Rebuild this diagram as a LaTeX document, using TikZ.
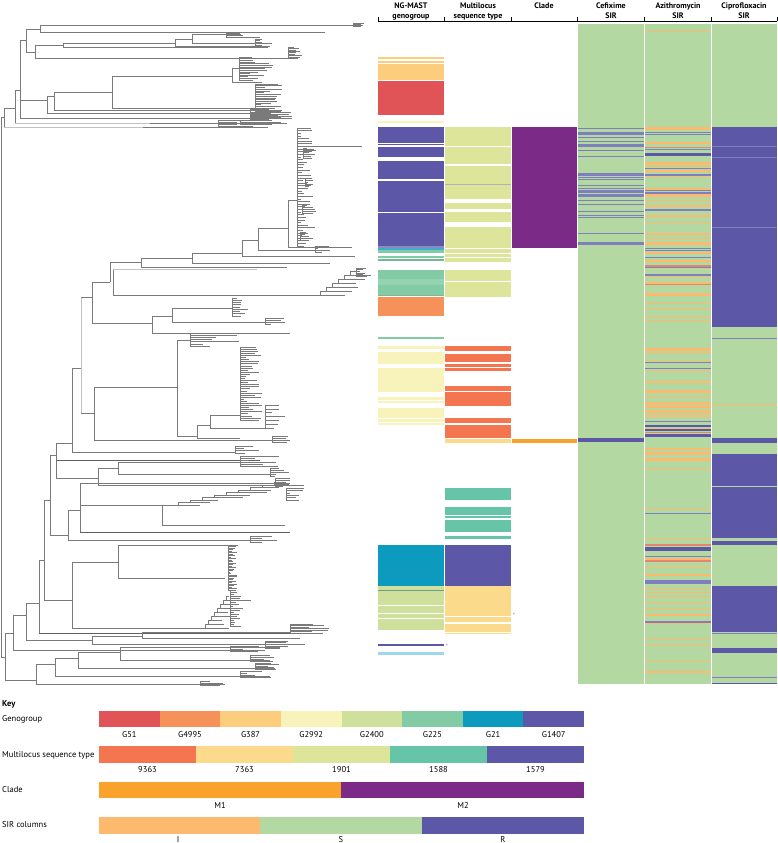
\documentclass[tikz,border=0pt]{standalone}
\usepackage{fontspec}
\setmainfont{PT Sans}
\definecolor{cGa}{HTML}{E05458}
\definecolor{cGb}{HTML}{F69259}
\definecolor{cGc}{HTML}{FDCD7E}
\definecolor{cGd}{HTML}{F7F3BB}
\definecolor{cGe}{HTML}{CFE09D}
\definecolor{cGf}{HTML}{82CBA4}
\definecolor{cGg}{HTML}{0C9ABE}
\definecolor{cGh}{HTML}{5C57A6}
\definecolor{cMa}{HTML}{F37651}
\definecolor{cMb}{HTML}{FBDA8C}
\definecolor{cMc}{HTML}{DDE59A}
\definecolor{cMd}{HTML}{66C5A7}
\definecolor{cMe}{HTML}{5C57A6}
\definecolor{cCa}{HTML}{F9A22C}
\definecolor{cCb}{HTML}{7B2A87}
\definecolor{cI}{HTML}{FDB96E}
\definecolor{cS}{HTML}{B3D8A1}
\definecolor{cR}{HTML}{5C57A6}
\definecolor{cRl}{HTML}{7E7FBC}
\definecolor{cX}{HTML}{E5866A}
\definecolor{treeg}{HTML}{7A7A7A}
\definecolor{treel}{HTML}{C2C2C2}
\definecolor{treed}{HTML}{606060}
\tikzset{
  br/.style={draw=treeg, line width=0.55pt},
  brl/.style={draw=treel, line width=0.55pt},
  brd/.style={draw=treed, line width=0.55pt},
  hdr/.style={font=\bfseries\fontsize{8}{9}\selectfont, anchor=base, inner sep=0pt},
  keyt/.style={font=\fontsize{8.5}{10}\selectfont, anchor=base, inner sep=0pt},
}
\newcommand\trH[4][br]{\draw[#1] (#3,#2) -- (#4,#2);}
\newcommand\trV[4][br]{\draw[#1] (#2,#3) -- (#2,#4);}
\newcommand\trC[5]{%
  \draw[br] (#1,#2) -- (#1,#3);
  \foreach \k in {0,...,#5}{%
    \pgfmathsetmacro\yy{#2+(#3-#2)*\k/#5}%
    \pgfmathsetmacro\ll{#4*(0.2+0.8*rnd)}%
    \draw[br] (#1,\yy) -- ++(\ll,0);
  }}
\newcommand\trS[6]{%
  \foreach \i in {1,...,#5}{%
    \pgfmathsetmacro\xa{#1+(\i-1)*(#3)}%
    \pgfmathsetmacro\ya{#2-(\i-1)*(#4)}%
    \pgfmathsetmacro\yb{\ya-(#4)}%
    \pgfmathsetmacro\xb{\xa+(#3)}%
    \pgfmathsetmacro\ll{#6*(0.4+0.6*rnd)}%
    \draw[br] (\xa,\ya) -- (\xa,\yb) -- (\xb,\yb);
    \draw[br] (\xa,\ya) -- ++(\ll,0);
  }}
\newcommand\gbx[3]{\fill[#1] (378,#2) rectangle (444,#3);}
\newcommand\mbx[3]{\fill[#1] (445,#2) rectangle (511,#3);}
\newcommand\cbx[3]{\fill[#1] (512,#2) rectangle (577,#3);}
\newcommand\cfx[3]{\fill[#1] (578,#2) rectangle (643.5,#3);}
\newcommand\azx[3]{\fill[#1] (645,#2) rectangle (710.5,#3);}
\newcommand\cix[3]{\fill[#1] (712,#2) rectangle (777,#3);}
\begin{document}
\begin{tikzpicture}[x=1pt,y=-1pt]
\useasboundingbox (0,0) rectangle (778,843);
\pgfmathsetseed{7}
% ---------------- tree ----------------
\trV{1}{117}{657}
\trH{117}{1}{4}
\trV{4}{108}{127}
\trH[brl]{127}{4}{143}
\trH{127}{143}{268}
\trC{218}{120}{126}{60}{3}
\trH{108}{4}{15}
\trV{15}{90}{123}
\trH[brl]{123}{15}{150}
\trH{123}{150}{287}
\trC{240}{120}{124}{45}{2}
\trH{90}{15}{20}
\trV{20}{40}{118}
\trH{118}{20}{292}
\trC{250}{114}{119}{40}{3}
\trH{40}{20}{26}
\trV{26}{29}{52}
\trH{29}{26}{40}
\trV{40}{25}{32}
\trH{25}{40}{353}
\trC{353}{23.5}{26.5}{16}{3}
\trH{32}{40}{325}
\trH{52}{26}{35}
\trV{35}{45}{58}
\trH{45}{35}{63}
\trV{63}{43}{47}
\trH{43}{63}{175}
\trV{175}{39}{46}
\trH{39}{175}{192}
\trV{192}{34}{43}
\trH{34}{192}{226}
\trC{226}{33}{37}{50}{3}
\trH{43}{192}{255}
\trC{255}{39}{45}{20}{4}
\trH{46}{175}{270}
\trH{47}{63}{268}
\trH{58}{35}{298}
\trC{288}{47}{57}{14}{7}
\trH{100}{20}{47}
\trV{47}{96}{113}
\trH{113}{47}{265}
\trC{250}{109}{116}{45}{4}
\trH{96}{47}{54}
\trV{54}{92}{110}
\trH{110}{54}{278}
\trH{92}{54}{112}
\trV{112}{76}{108}
\trH{76}{112}{232}
\trV{232}{68}{82}
\trH{68}{232}{239}
\trC{239}{57}{80}{35}{14}
\trH{82}{232}{262}
\trH{108}{112}{255}
\trC{255}{84}{115}{28}{18}
% middle
\trV[brl]{81}{297}{413}
\trH{297}{81}{92}
\trV{92}{282}{323}
\trH{282}{92}{110}
\trV{110}{262}{282}
\trH{262}{110}{141}
\trV{141}{258}{267}
\trH{267}{141}{287}
\trH{258}{141}{192}
\trV{192}{253}{263}
\trH{263}{192}{330}
\trH{253}{192}{242}
\trV{242}{240}{256}
\trH{256}{242}{355}
\trH{240}{242}{258}
\trV{258}{228}{250}
\trH{250}{258}{330}
\trC{315}{246}{252}{15}{3}
\trH{228}{258}{288}
\trV{288}{200}{247}
\trH{247}{288}{352}
\trH{200}{288}{297}
\trC{297}{128}{246}{18}{45}
\trH{146}{297}{362}
\trC{303}{148}{158}{14}{5}
\trC{305}{178}{186}{12}{4}
\trC{302}{205}{213}{15}{4}
\trC{300}{232}{240}{20}{4}
\trV{113}{269}{295}
\trH[brl]{269}{113}{257}
\trH{295}{113}{320}
\trS{320}{295}{6}{4}{6}{28}
\trC{356}{268}{276}{14}{5}
\trH{323}{92}{152}
\trV{152}{316}{333}
\trH{333}{152}{290}
\trH{316}{152}{172}
\trV{172}{308}{322}
\trH{322}{172}{285}
\trC{265}{318}{324}{25}{3}
\trH{308}{172}{232}
\trC{232}{298}{316}{18}{8}
\trH{413}{81}{94}
\trV{94}{387}{440}
\trH{440}{94}{290}
\trC{272}{436}{442}{20}{3}
\trH{387}{94}{177}
\trV{177}{340}{436}
\trH{340}{177}{190}
\trC{190}{333}{346}{50}{6}
\trH{436}{177}{197}
\trV{197}{425}{438}
\trH{438}{197}{240}
\trH{425}{197}{210}
\trV{210}{415}{428}
\trH{428}{210}{265}
\trC{265}{405}{428}{25}{6}
\trH{415}{210}{240}
\trC{240}{347}{420}{22}{35}
\trV{72}{368}{452}
\trH{368}{72}{81}
\trH{452}{72}{235}
\trC{235}{446}{453}{25}{3}
\trV{56}{443}{478}
\trH{443}{56}{72}
\trH[brd]{460}{56}{260}
\trH{478}{56}{98}
\trV{98}{468}{485}
\trH{468}{98}{118}
\trV{118}{462}{474}
\trH{462}{118}{240}
\trC{240}{456}{466}{45}{5}
\trH{474}{118}{270}
\trC{270}{468}{476}{20}{4}
\trH{485}{98}{285}
\trV{50}{455}{535}
\trH{455}{50}{56}
\trH{535}{50}{68}
\trV{68}{510}{540}
\trH{510}{68}{80}
\trH{540}{68}{250}
\trC{250}{536}{542}{30}{3}
\trV{80}{483}{532}
\trH[brd]{532}{80}{290}
\trH{483}{80}{290}
\trC{275}{478}{486}{20}{4}
\trH{505}{80}{162}
\trV{162}{505}{525}
\trH{525}{162}{285}
\trH{505}{162}{178}
\trS{178}{505}{12}{2.5}{9}{35}
\trC{286}{488}{500}{18}{5}
\trV{44}{500}{600}
\trH{500}{44}{50}
\trH{600}{44}{72}
\trV{72}{562}{628}
\trH{562}{72}{118}
\trV{118}{545}{578}
\trH{545}{118}{228}
\trH{578}{118}{225}
\trC{228}{545}{590}{10}{30}
\trH{628}{72}{205}
\trS{205}{628}{3}{4}{8}{25}
\trC{230}{590}{626}{12}{18}
\trV{39}{560}{633}
\trH{560}{39}{44}
\trH[brd]{633}{39}{290}
\trH[brl]{633}{290}{310}
\trV{26}{603}{640}
\trH{603}{26}{39}
\trH{640}{26}{92}
\trV{92}{636}{644}
\trH{636}{92}{142}
\trV{142}{632}{638}
\trH{632}{142}{290}
\trC{290}{624}{633}{40}{6}
\trH{638}{142}{300}
\trH{644}{92}{305}
\trV{13}{615}{650}
\trH{615}{13}{26}
\trH{650}{13}{265}
\trC{230}{646}{651}{35}{3}
\trH{657}{1}{5}
\trV{5}{633}{680}
\trH{633}{5}{13}
\trH{680}{5}{36}
\trV{36}{664}{684}
\trH{684}{36}{225}
\trC{200}{681}{685}{30}{2}
\trH{664}{36}{55}
\trV{55}{658}{676}
\trH{676}{55}{270}
\trC{240}{671}{677}{35}{3}
\trH{658}{55}{78}
\trV{78}{652}{668}
\trH{668}{78}{275}
\trC{255}{663}{669}{25}{4}
\trH{652}{78}{120}
\trV{120}{647}{660}
\trH{647}{120}{280}
\trC{265}{641}{648}{30}{4}
\trH{660}{120}{270}
\trC{250}{655}{661}{25}{3}
% ---------------- header ----------------
\draw[line width=0.6pt] (378,21) -- (777,21);
\foreach \x in {378,444,511,577,644,711,777} \draw[line width=0.6pt] (\x,17) -- (\x,21);
\node[hdr] (h1a) at (411,8.5) {NG-MAST};
\node[hdr] (h1b) at (411,18.5) {genogroup};
\node[hdr] (h2a) at (478,8.5) {Multilocus};
\node[hdr] (h2b) at (478,18.5) {sequence type};
\node[hdr] (h3a) at (544,8.5) {Clade};
\node[hdr] (h4a) at (611,8.5) {Cefixime};
\node[hdr] (h4b) at (611,18.5) {SIR};
\node[hdr] (h5a) at (678,8.5) {Azithromycin};
\node[hdr] (h5b) at (678,18.5) {SIR};
\node[hdr] (h6a) at (744,8.5) {Ciprofloxacin};
\node[hdr] (h6b) at (744,18.5) {SIR};
% ---------------- genogroup column ----------------
\gbx{cGc}{57}{59.3}\gbx{cGc}{61}{63.2}\gbx{cGc}{64}{80}
\gbx{cGa}{81}{115}
\gbx{cGd}{121.2}{122.8}
\gbx{cGh}{127}{143}\gbx{cGh}{144}{145.2}\gbx{cGh}{147}{157}
\gbx{cGh}{161}{171.5}\gbx{cGh}{172.2}{179}\gbx{cGh}{181}{196.5}\gbx{cGh}{197.2}{212}
\gbx{cGh}{213}{246}
\gbx{cGh!70!white}{246.3}{248}\gbx{cGg!80!white}{248.3}{250}\gbx{cGf}{250.2}{253}
\gbx{cGf}{256.3}{257.7}\gbx{cGf!90!black}{259.4}{260.8}
\gbx{cGf}{270}{278.5}\gbx{cGf!85!white}{279}{284.5}\gbx{cGf}{285}{294.5}
\gbx{cGf!70!gray}{294.5}{296}
\gbx{cGb}{296.5}{316}
\gbx{cGf}{337.3}{338.8}
\gbx{cGd}{346}{349}\gbx{cGd}{352}{359.5}\gbx{cGd}{360.2}{364}\gbx{cGd}{368}{392}
\gbx{cGd}{397}{400}\gbx{cGd}{400.8}{403}\gbx{cGd}{408}{418}\gbx{cGd}{419}{422}\gbx{cGd}{422.8}{425}
\gbx{cGg}{545}{586}
\gbx{cGe}{586}{590}\gbx{cGf!80!black}{590}{591}\gbx{cGe}{591.2}{605}\gbx{cGe}{605.8}{613}
\gbx{cGe}{613.8}{618}\gbx{cGe}{618.8}{622.5}\gbx{cGe}{623.2}{630}
\gbx{cGh}{644.3}{646.3}
\gbx{cGg!40!white}{652.3}{654.5}
% ---------------- MLST column ----------------
\mbx{cMc}{127}{146}\mbx{cMc}{147}{164}\mbx{cMc}{166}{183.6}\mbx{gray!60}{183.6}{184.8}\mbx{cMc}{184.8}{199}
\mbx{cMc}{203}{209}\mbx{cMc}{212}{222}\mbx{cMc}{227}{248}\mbx{cMc}{249}{250.5}\mbx{cMc}{251}{253}
\mbx{cMc}{254}{257}\mbx{cMc}{258}{262}
\mbx{cMc}{270}{281}\mbx{cMc}{282}{297}
\mbx{cMa}{346}{351}\mbx{cMa}{354}{362}\mbx{cMa}{364}{367}\mbx{cMa}{368}{371}
\mbx{cMa}{386}{391}\mbx{cMa}{392}{406}\mbx{cMa}{418}{423}\mbx{cMa}{425}{438}
\mbx{cMb}{439}{443}
\mbx{cMd}{488}{500}\mbx{cMd}{507}{515}\mbx{cMd}{516}{518}\mbx{cMd}{520}{532}\mbx{cMd}{536}{539}
\mbx{cMe}{545}{586}
\mbx{cMb}{586}{616}\mbx{cMb}{617}{622}\mbx{cMb}{624}{632}\mbx{cMb}{633}{634}
\node[font=\fontsize{6}{6}\selectfont, text=gray, inner sep=0pt] (ast1) at (514,615) {*};
\node[font=\fontsize{6}{6}\selectfont, text=gray, inner sep=0pt] (ast2) at (447,646) {*};
% ---------------- clade column ----------------
\cbx{cCb}{127}{248}
\cbx{cCa}{439}{443}
% ---------------- SIR columns ----------------
\cfx{cS}{24}{684}\azx{cS}{24}{684}\cix{cS}{24}{684}
\foreach \y/\h in {128/1,132/1.5,134/1,137/1,141/1,144/1.5,146/1,150/1,156/1,173/1.5,175/1,177/1,179/1,185/1,188/1,190/1.5,192/1,194/2,196/1,200/1,204/1,211/1,215/1,217/1,233/1,242/1.5,244/1}
  {\fill[cRl] (578,\y) rectangle (643.5,\y+\h);}
\cfx{cR}{438}{442}
\foreach \y/\h/\c in {31/1.5/cI,127/3/cI,132/1/cRl,134/1/cRl,142/2/cI,147/1/cX,149/1/cRl,153/3/cR,162/1.5/cI,165/2/cI,168/1/cRl,170/2/cI,174/1.5/cRl,177/1/cI,188/1.5/cI,190/1/cRl,192/1.5/cRl,194/3/cI,200/1/cI,205/2/cI,209/1.5/cRl,215/2/cI,222/1/cI,233/2/cI,238/1/cI,242/3/cI,248/1/cRl,250/1/cRl,252/1.5/cI,257/1/cRl,260/1.5/cI,265/1.5/cX,266.5/0.8/cRl,274/1.5/cRl,276/1/cI,282/2/cI,284/0.8/cX,293/3/cI,303/1/cI,309/1/cI,317/1/cI,320/1/cI,348/3/cI,353/1/cI,360/1/cI,362/1/cRl,368/1/cRl,371/1/cI,380/1/cI,383/1/cI,390/3/cI,397/1/cI,402/1.5/cI,405/3/cI,410/3/cI,414/1/cI,417/1/cI,421/1/cRl,425/2/cR,427.5/1/cI,429/2/cR,431.5/1.5/cX,433.5/3/cR,448/1.5/cI,452/3/cI,458/2.5/cI,468/1/cI,508/1/cI,513/1/cRl,538/1/cI,544/2/cX,547/4/cR,556/1/cRl,558/1.5/cI,560/1.5/cX,567/1/cI,574/2/cI,580/4/cRl,588/1/cI,592/1/cI,596/1/cI,602/1/cI,608/1/cI,614/2/cI,621/1.5/cRl,623/1/cI,638/1/cI,645/1/cI,661/1/cI,671/1/cI,673/1/cI}
  {\fill[\c] (645,\y) rectangle (710.5,\y+\h);}
\cix{cR}{127}{327}
\cix{cRl}{145.6}{146.4}\cix{cRl}{156.6}{157.4}\cix{cRl}{226.6}{227.4}
\cix{cRl}{337.5}{338.6}
\cix{cI}{403.6}{404.4}
\cix{cR}{438}{443}
\cix{cR}{454}{486}\cix{cR}{487}{538}\cix{cR}{541}{545}
\cix{cR}{586}{632}\cix{cRl}{632.8}{634}\cix{cR}{648}{653}
\cix{cRl}{676.5}{677.7}\cix{cR}{682.5}{684}
% ---------------- key ----------------
\node[keyt, anchor=base west, font=\bfseries\fontsize{8.5}{10}\selectfont] (keyh) at (2,706) {Key};
\node[keyt, anchor=base west] (k1) at (2,721) {Genogroup};
\node[keyt, anchor=base west] (k2) at (2,757) {Multilocus sequence type};
\node[keyt, anchor=base west] (k3) at (2,792) {Clade};
\node[keyt, anchor=base west] (k4) at (2,827) {SIR columns};
\foreach \c/\lab [count=\i from 0] in {cGa/G51,cGb/G4995,cGc/G387,cGd/G2992,cGe/G2400,cGf/G225,cGg/G21,cGh/G1407}{
  \pgfmathsetmacro\xl{99+\i*60.625}
  \pgfmathsetmacro\xr{\xl+60.625}
  \pgfmathsetmacro\xm{\xl+30.3}
  \fill[\c] (\xl,711) rectangle (\xr,727);
  \node[keyt] (g\i) at (\xm,737) {\lab};
}
\foreach \c/\lab [count=\i from 0] in {cMa/9363,cMb/7363,cMc/1901,cMd/1588,cMe/1579}{
  \pgfmathsetmacro\xl{99+\i*97}
  \pgfmathsetmacro\xr{\xl+97}
  \pgfmathsetmacro\xm{\xl+48.5}
  \fill[\c] (\xl,746) rectangle (\xr,763);
  \node[keyt] (m\i) at (\xm,772) {\lab};
}
\fill[cCa] (99,782) rectangle (341,798);
\fill[cCb] (341,782) rectangle (584,798);
\node[keyt] (cl1) at (220,808) {M1};
\node[keyt] (cl2) at (463,808) {M2};
\fill[cI] (99,817) rectangle (260,834);
\fill[cS] (260,817) rectangle (422,834);
\fill[cR] (422,817) rectangle (584,834);
\node[keyt] (s1) at (178,842) {I};
\node[keyt] (s2) at (341,842) {S};
\node[keyt] (s3) at (503,842) {R};
\end{tikzpicture}
\end{document}
